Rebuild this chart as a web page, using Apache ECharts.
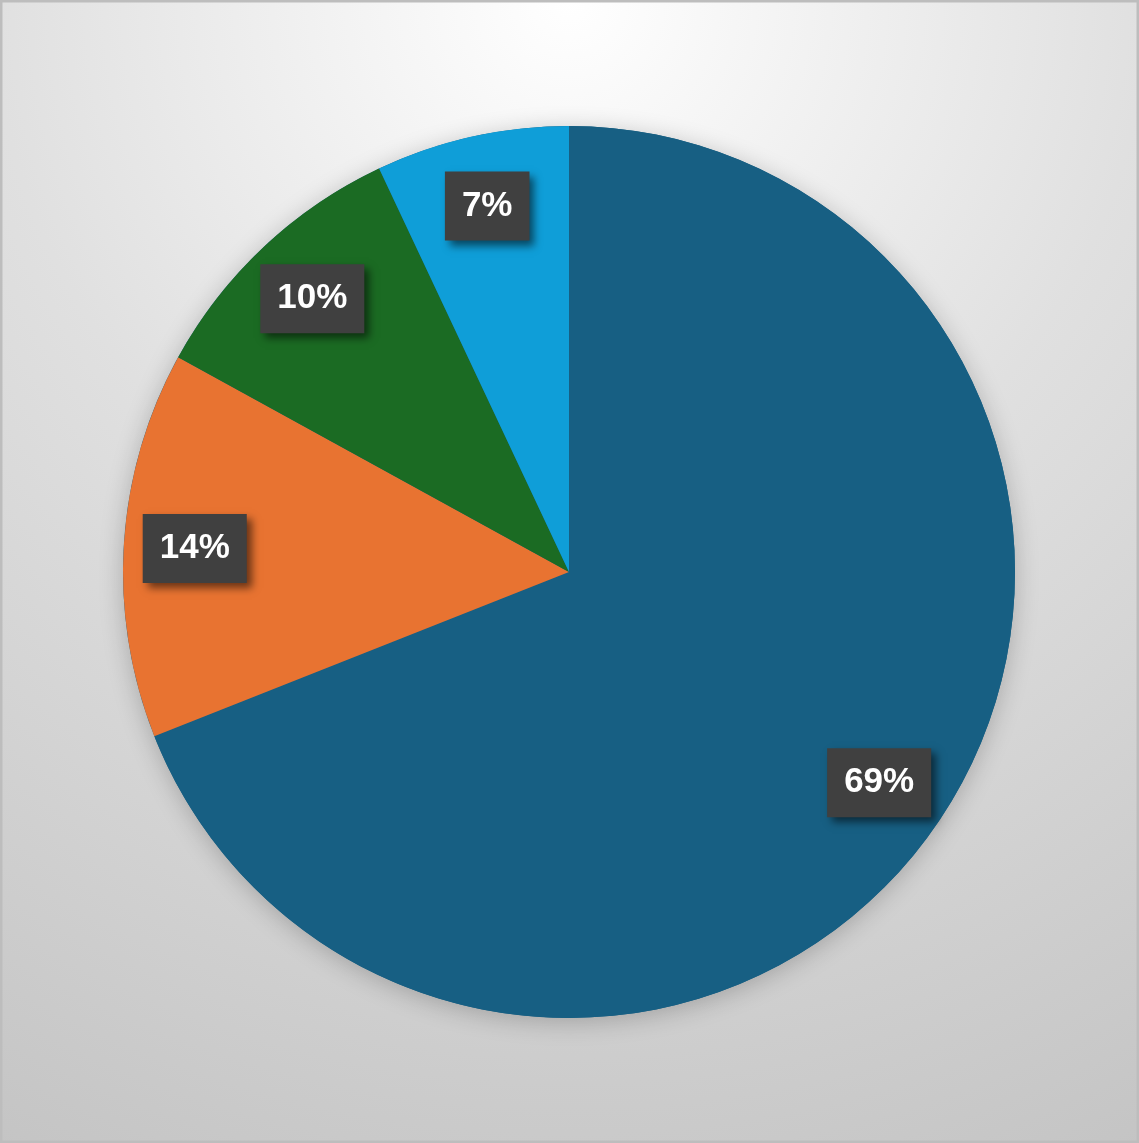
<!DOCTYPE html>
<html>
<head>
<meta charset="utf-8">
<script src="https://cdn.jsdelivr.net/npm/echarts@6/dist/echarts.min.js"></script>
<style>
html,body{margin:0;padding:0;background:#fff;}
#chart{width:1139px;height:1143px;}
</style>
</head>
<body>
<div id="chart"></div>
<script>
const categories = ['A', 'B', 'C', 'D'];
const values = [69, 14, 10, 7];
const colors = ['#175f83', '#e87331', '#1b6b23', '#0f9ed8'];

const chart = echarts.init(document.getElementById('chart'));
const pieData = categories.map((c, i) => ({ name: c, value: values[i], itemStyle: { color: colors[i] } }));
const total = values.reduce((a, b) => a + b, 0);

chart.setOption({
  backgroundColor: {
    type: 'radial', x: 0.5, y: 0, r: 1.15,
    colorStops: [
      { offset: 0, color: '#ffffff' },
      { offset: 0.44, color: '#e0e0e0' },
      { offset: 1, color: '#c3c3c3' }
    ]
  },
  animation: false,
  graphic: [{
    type: 'rect', silent: true, z: 100,
    shape: { x: 1, y: 1, width: 1137, height: 1141 },
    style: { fill: 'none', stroke: '#bdbdbd', lineWidth: 3 }
  }],
  series: [
    {
      type: 'pie',
      center: [569, 572],
      radius: 446,
      z: 1,
      data: [{ name: 'shadow', value: total }],
      label: { show: false },
      labelLine: { show: false },
      itemStyle: { color: '#175f83', shadowBlur: 25, shadowColor: 'rgba(0,0,0,0.22)', shadowOffsetY: 4 },
      silent: true
    },
    {
      type: 'pie',
      center: [569, 572],
      radius: 446,
      startAngle: 90,
      clockwise: true,
      z: 2,
      data: pieData,
      label: { show: false },
      labelLine: { show: false },
      silent: true
    },
    {
      type: 'pie',
      center: [569, 572],
      radius: [298, 446],
      startAngle: 90,
      clockwise: true,
      z: 5,
      data: categories.map((c, i) => ({ name: c, value: values[i] })),
      itemStyle: { color: 'rgba(0,0,0,0)' },
      silent: true,
      labelLine: { show: false },
      label: {
        show: true,
        position: 'inside',
        formatter: p => Math.round(p.value / total * 100) + '%',
        color: '#ffffff',
        fontFamily: 'Liberation Sans',
        fontWeight: 'bold',
        fontSize: 35,
        lineHeight: 35,
        backgroundColor: '#404040',
        padding: [17, 17, 17, 17],
        shadowBlur: 8,
        shadowOffsetX: 5,
        shadowOffsetY: 5,
        shadowColor: 'rgba(0,0,0,0.55)'
      }
    }
  ]
});
</script>
</body>
</html>
